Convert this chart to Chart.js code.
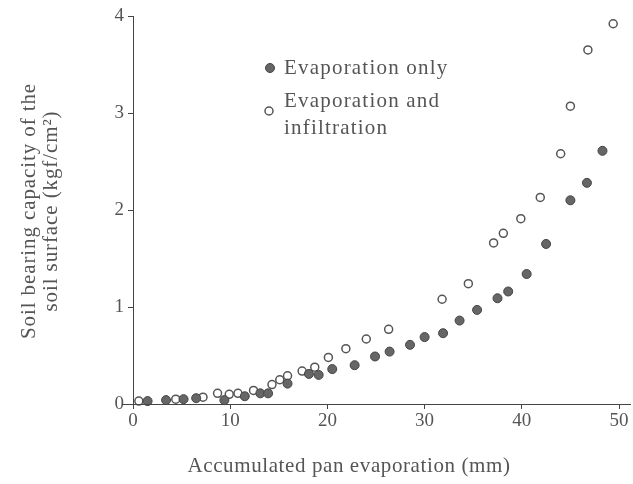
<!DOCTYPE html>
<html>
<head>
<meta charset="utf-8">
<script src="https://cdn.jsdelivr.net/npm/chart.js@4/dist/chart.umd.min.js"></script>
<style>
  html, body { margin: 0; padding: 0; background: #fff; }
  #wrap { width: 633px; height: 484px; position: relative; }
</style>
</head>
<body>
<div id="wrap"><canvas id="c"></canvas></div>
<script>
// Données : [évaporation cumulée (mm), portance (kgf/cm2)]
var evapOnlyX = [1.5, 3.4, 5.2, 6.5, 9.4, 11.5, 13.1, 13.9, 15.9, 18.1, 19.1, 20.5, 22.8, 24.9, 26.4, 28.5, 30.0, 31.9, 33.6, 35.4, 37.5, 38.6, 40.5, 42.5, 45.0, 46.7, 48.3];
var evapOnlyY = [0.03, 0.04, 0.05, 0.06, 0.04, 0.08, 0.11, 0.11, 0.21, 0.31, 0.30, 0.36, 0.40, 0.49, 0.54, 0.61, 0.69, 0.73, 0.86, 0.97, 1.09, 1.16, 1.34, 1.65, 2.10, 2.28, 2.61];

var evapInfilX = [0.6, 4.4, 7.2, 8.7, 9.9, 10.8, 12.4, 14.3, 15.1, 15.9, 17.4, 18.7, 20.1, 21.9, 24.0, 26.3, 31.8, 34.5, 37.1, 38.1, 39.9, 41.9, 44.0, 45.0, 46.8, 49.4];
var evapInfilY = [0.03, 0.05, 0.07, 0.11, 0.10, 0.11, 0.14, 0.20, 0.25, 0.29, 0.34, 0.38, 0.48, 0.57, 0.67, 0.77, 1.08, 1.24, 1.66, 1.76, 1.91, 2.13, 2.58, 3.07, 3.65, 3.92];

var xTicks = [0, 10, 20, 30, 40, 50];
var yTicks = [0, 1, 2, 3, 4];

var serif = "'Liberation Serif', 'DejaVu Serif', serif";
var gris = '#555';

function points(xs, ys) {
    return xs.map(function (x, i) { return { x: x, y: ys[i] }; });
}

// Titres des axes et légende dessinés à la main (placement libre).
var decor = {
    id: 'decor',
    afterDraw: function (chart) {
        var ctx = chart.ctx;
        var xs = chart.scales.x, ys = chart.scales.y;
        ctx.save();

        // Prolongement de l'axe X de part et d'autre
        ctx.strokeStyle = '#444';
        ctx.lineWidth = 1;
        ctx.beginPath();
        ctx.moveTo(122, ys.bottom + 0.5);
        ctx.lineTo(631, ys.bottom + 0.5);
        ctx.stroke();

        // Légende
        ctx.beginPath();
        ctx.arc(270, 68, 4.5, 0, Math.PI * 2);
        ctx.fillStyle = '#666';
        ctx.fill();
        ctx.strokeStyle = '#444';
        ctx.stroke();
        ctx.beginPath();
        ctx.arc(269, 111, 4, 0, Math.PI * 2);
        ctx.fillStyle = '#fff';
        ctx.fill();
        ctx.strokeStyle = '#555';
        ctx.lineWidth = 1.5;
        ctx.stroke();

        ctx.fillStyle = gris;
        ctx.textBaseline = 'middle';
        ctx.textAlign = 'left';
        ctx.font = '21px ' + serif;
        ctx.letterSpacing = '1.2px';
        ctx.fillText('Evaporation only', 284, 68);
        ctx.fillText('Evaporation and', 284, 101);
        ctx.fillText('infiltration', 284, 128);

        // Titre axe X
        ctx.textAlign = 'center';
        ctx.letterSpacing = '0.6px';
        ctx.fillText('Accumulated pan evaporation (mm)', 349, 466);

        // Titre axe Y (deux lignes, pivoté)
        ctx.letterSpacing = '0.9px';
        ctx.translate(40, 211);
        ctx.rotate(-Math.PI / 2);
        ctx.fillText('Soil bearing capacity of the', 0, -11);
        ctx.fillText('soil surface (kgf/cm\u00B2)', 0, 11);
        ctx.restore();
    }
};

new Chart(document.getElementById('c'), {
    type: 'scatter',
    data: {
        datasets: [{
            label: 'Evaporation only',
            data: points(evapOnlyX, evapOnlyY),
            pointRadius: 4.5,
            pointBackgroundColor: '#666',
            pointBorderColor: '#444',
            pointBorderWidth: 1
        }, {
            label: 'Evaporation and infiltration',
            data: points(evapInfilX, evapInfilY),
            pointRadius: 4,
            pointBackgroundColor: '#fff',
            pointBorderColor: '#555',
            pointBorderWidth: 1.5
        }]
    },
    options: {
        responsive: true,
        maintainAspectRatio: false,
        animation: false,
        clip: false,
        layout: { padding: { top: 16, right: 14, left: 0, bottom: 0 } },
        plugins: {
            legend: { display: false },
            tooltip: { enabled: false }
        },
        scales: {
            x: {
                type: 'linear',
                min: 0,
                max: 50,
                afterFit: function (s) { s.height = 80; },
                afterBuildTicks: function (s) { s.ticks = xTicks.map(function (v) { return { value: v }; }); },
                border: { color: '#444', width: 1 },
                grid: { drawOnChartArea: false, drawTicks: true, tickLength: 5, color: '#444' },
                ticks: { color: gris, font: { family: serif, size: 19 }, padding: 1, maxRotation: 0 }
            },
            y: {
                type: 'linear',
                min: 0,
                max: 4,
                afterFit: function (s) { s.width = 133; },
                afterBuildTicks: function (s) { s.ticks = yTicks.map(function (v) { return { value: v }; }); },
                border: { color: '#444', width: 1 },
                grid: { drawOnChartArea: false, drawTicks: true, tickLength: 5, color: '#444' },
                ticks: { color: gris, font: { family: serif, size: 19 }, padding: 4 }
            }
        }
    },
    plugins: [decor]
});
</script>
</body>
</html>
